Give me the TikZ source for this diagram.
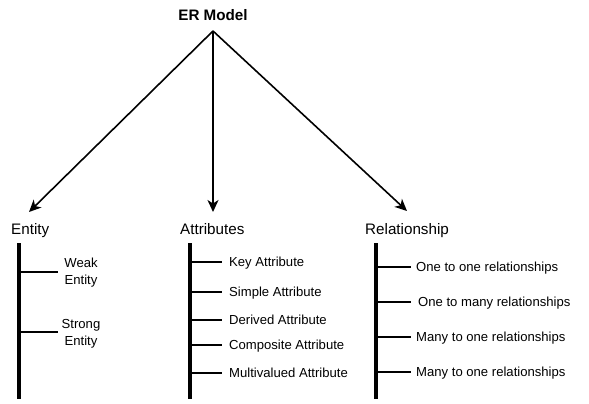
\documentclass[tikz,border=0pt]{standalone}
\usepackage{fontspec}
\setmainfont{Liberation Sans}
\usetikzlibrary{arrows.meta}
\begin{document}
\begin{tikzpicture}[x=1pt,y=-1pt,
  head/.style={inner sep=0pt,anchor=base west,font=\fontsize{15.2}{17}\selectfont},
  lbl/.style={inner sep=0pt,anchor=base west,font=\fontsize{13.1}{17}\selectfont},
  lbl2/.style={inner sep=0pt,align=center,font=\fontsize{13.1}{17}\selectfont},
  arr/.style={line width=1.6pt,-{Stealth[length=12pt,width=11pt,inset=3.5pt]}},
  bar/.style={line width=3.2pt},
  branch/.style={line width=1.5pt}]
\useasboundingbox (0,0) rectangle (589,404);
% title
\node[inner sep=0pt,anchor=base,font=\fontsize{15.2}{17}\selectfont\bfseries] (er) at (213,20.7) {ER Model};
\coordinate (apex) at (213,31);
\coordinate (tipE) at (29,212);
\coordinate (tipA) at (213,212);
\coordinate (tipR) at (407,211);
\draw[arr] (apex) -- (tipE);
\draw[arr] (apex) -- (tipA);
\draw[arr] (apex) -- (tipR);
% headings
\node[head] (ent) at (11,234) {Entity};
\node[head] (att) at (180,234) {Attributes};
\node[head] (rel) at (365,234) {Relationship};
% Entity
\coordinate (e0) at (19,243);
\coordinate (e1) at (19,399);
\draw[bar] (e0) -- (e1);
\coordinate (eb1) at (19,272);
\coordinate (eb2) at (19,332);
\node[lbl2] (weak) at (81,273) {Weak\\Entity};
\node[lbl2] (strong) at (81,334) {Strong\\Entity};
\draw[branch] (eb1) -- (58,272);
\draw[branch] (eb2) -- (58,332);
% Attributes
\coordinate (a0) at (190,243);
\coordinate (a1) at (190,399);
\draw[bar] (a0) -- (a1);
\foreach \y/\t/\n in {262/Key Attribute/ak,292/Simple Attribute/as,320/Derived Attribute/ad,345/Composite Attribute/ac,373/Multivalued Attribute/am}{
  \coordinate (\n b) at (190,\y);
  \coordinate (\n e) at (222,\y);
  \draw[branch] (\n b) -- (\n e);
  \node[lbl] (\n) at (229,\y+4.7) {\t};
}
% Relationship
\coordinate (r0) at (376,243);
\coordinate (r1) at (376,399);
\draw[bar] (r0) -- (r1);
\foreach \y/\x/\t/\n in {267/416/One to one relationships/r1l,302/418/One to many relationships/r2l,337/416/Many to one relationships/r3l,372/416/Many to one relationships/r4l}{
  \coordinate (\n b) at (376,\y);
  \coordinate (\n e) at (411,\y);
  \draw[branch] (\n b) -- (\n e);
  \node[lbl] (\n) at (\x,\y+4.7) {\t};
}
\end{tikzpicture}
\end{document}
